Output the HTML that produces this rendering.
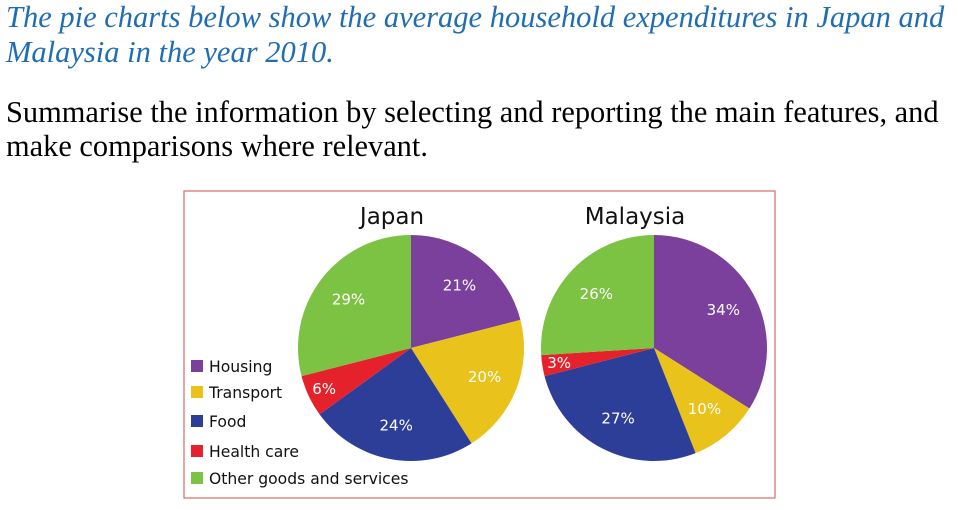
<!DOCTYPE html>
<html><head><meta charset="utf-8"><style>
body{margin:0;width:958px;height:510px;background:#fff;overflow:hidden;position:relative}
.t{position:absolute;left:6px;white-space:nowrap;font-family:"Liberation Serif",serif}
.it{font-style:italic;color:#1f6db4;font-size:30.5px}
.bl{color:#000;font-size:30.4px}
</style></head><body>
<div class="t it" style="top:0px">The pie charts below show the average household expenditures in Japan and</div>
<div class="t it" style="top:35px">Malaysia in the year 2010.</div>
<div class="t bl" style="top:95px">Summarise the information by selecting and reporting the main features, and</div>
<div class="t bl" style="top:129px">make comparisons where relevant.</div>
<svg id="chart" width="958" height="510" style="position:absolute;left:0;top:0"
 font-family="'DejaVu Sans','Liberation Sans',sans-serif">
<rect x="184" y="191" width="591" height="307" fill="#fff" stroke="#d46a6a" stroke-width="1.2"/>
</svg>
<script>
const categories=["Housing","Transport","Food","Health care","Other goods and services"];
const colors=["#7b3f9c","#e9c21b","#2d3e98","#e5212b","#7cc243"];
const japanValues=[21,20,24,6,29];
const malaysiaValues=[34,10,27,3,26];
const labelsJapan=["21%","20%","24%","6%","29%"];
const labelsMalaysia=["34%","10%","27%","3%","26%"];
const svg=document.getElementById('chart');
const NS="http://www.w3.org/2000/svg";
function mk(t,a){const e=document.createElementNS(NS,t);for(const k in a)e.setAttribute(k,a[k]);svg.appendChild(e);return e;}
function pt(cx,cy,r,frac){const a=frac*2*Math.PI;return [cx+r*Math.sin(a),cy-r*Math.cos(a)];}
function pie(name,title,vals,labels,cx,cy,r){
  const tot=vals.reduce((a,b)=>a+b,0);let c=0;
  const tt=mk('text',{x:cx-19,y:224,'text-anchor':'middle','font-size':23,fill:'#111'});tt.textContent=title;
  
  
  vals.forEach((v,i)=>{
    const f0=c/tot,f1=(c+v)/tot;c+=v;
    const p0=pt(cx,cy,r,f0),p1=pt(cx,cy,r,f1);
    const large=(f1-f0)>0.5?1:0;
    const p=mk('path',{d:`M${cx},${cy}L${p0[0]},${p0[1]}A${r},${r} 0 ${large} 1 ${p1[0]},${p1[1]}Z`,fill:colors[i]});
    
    
    const lr=v<8?0.85*r:0.7*r;
    const m=pt(cx,cy,lr,(f0+f1)/2);
    const t=mk('text',{x:m[0],y:m[1]+5,'text-anchor':'middle','font-size':15,fill:'#fff'});
    t.textContent=labels[i];
    
    
  });
}
pie('japan','Japan',japanValues,labelsJapan,411,348,113);
pie('malaysia','Malaysia',malaysiaValues,labelsMalaysia,654,348,113);
const ly=[366,392,421,451,478];
categories.forEach((c,i)=>{
  const r=mk('rect',{x:191,y:ly[i]-6,width:12,height:12,fill:colors[i]});
  
  
  const t=mk('text',{x:209,y:ly[i]+6,'font-size':15.6,fill:'#111'});t.textContent=c;
  
  
});
</script>
</body></html>
